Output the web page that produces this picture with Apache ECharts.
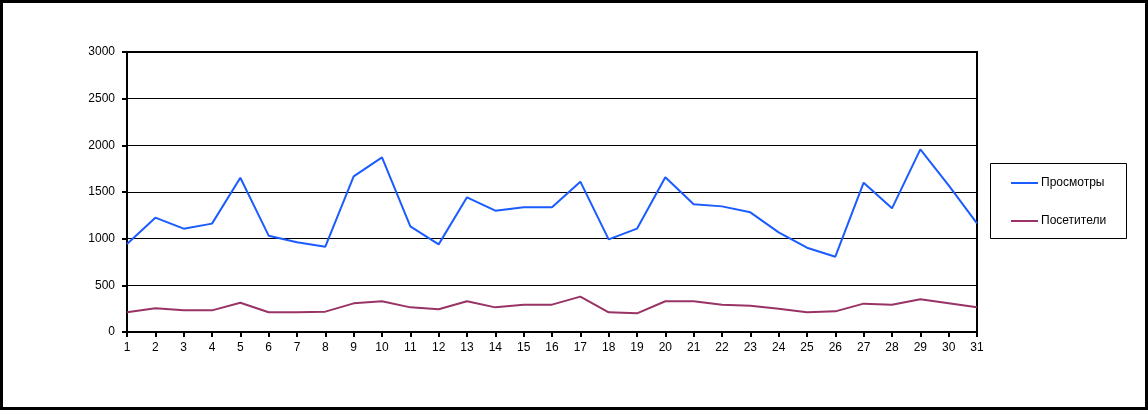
<!DOCTYPE html>
<html>
<head>
<meta charset="utf-8">
<script src="https://cdn.jsdelivr.net/npm/echarts@6/dist/echarts.min.js"></script>
<style>
html,body{margin:0;padding:0;background:#fff;}
#c{width:1148px;height:410px;}
</style>
</head>
<body>
<div id="c"></div>
<script>
const days = ['1','2','3','4','5','6','7','8','9','10','11','12','13','14','15','16','17','18','19','20','21','22','23','24','25','26','27','28','29','30','31'];
const views = [943,1225,1107,1161,1653,1032,961,914,1668,1871,1132,939,1443,1300,1336,1336,1611,993,1107,1657,1368,1346,1282,1068,903,807,1600,1325,1957,1571,1164];
const visitors = [211,254,232,232,314,211,211,218,307,329,264,243,329,264,293,293,379,211,200,329,329,293,282,250,211,221,304,293,350,307,264];
const seriesNames = ['Просмотры','Посетители'];
const yTicks = {min:0, max:3000, interval:500};

const chart = echarts.init(document.getElementById('c'), null, {renderer:'canvas'});
const font = 'Arial, "Liberation Sans", sans-serif';
chart.setOption({
  animation:false,
  backgroundColor:'#fff',
  textStyle:{fontFamily:font},
  graphic:[
    {type:'rect', shape:{x:1.5,y:1.5,width:1145,height:407}, style:{fill:'none', stroke:'#000', lineWidth:3}, z:100},
    {type:'rect', shape:{x:990.5,y:163.5,width:136,height:75}, style:{fill:'#fff', stroke:'#000', lineWidth:1}, z:1}
  ],
  grid:{left:127, right:171, top:52, bottom:78, show:true, borderColor:'#000', borderWidth:2},
  legend:{
    left:1011, top:177, orient:'vertical', itemGap:26, padding:0,
    itemWidth:27, itemHeight:2,
    icon:'rect',
    textStyle:{fontFamily:font, fontSize:12, color:'#000', padding:[0,0,0,-2]},
    data:seriesNames, z:5
  },
  xAxis:{
    type:'category', data:days, boundaryGap:false,
    axisLine:{lineStyle:{color:'#000', width:2}},
    axisTick:{show:true, length:5, inside:false, lineStyle:{color:'#000', width:2}, interval:0},
    axisLabel:{color:'#000', fontSize:12, fontFamily:font, margin:10, interval:0},
    splitLine:{show:false}
  },
  yAxis:{
    type:'value', min:yTicks.min, max:yTicks.max, interval:yTicks.interval,
    axisLine:{show:true, lineStyle:{color:'#000', width:2}},
    axisTick:{show:true, length:5, lineStyle:{color:'#000', width:2}},
    axisLabel:{color:'#000', fontSize:12, fontFamily:font, margin:12, formatter:function(v){return String(v);}},
    splitLine:{show:true, lineStyle:{color:'#000', width:1}}
  },
  series:[
    {name:seriesNames[0], type:'line', data:views, showSymbol:false, symbol:'none',
     lineStyle:{color:'#1a5cff', width:2}, itemStyle:{color:'#1a5cff'}},
    {name:seriesNames[1], type:'line', data:visitors, showSymbol:false, symbol:'none',
     lineStyle:{color:'#993366', width:2}, itemStyle:{color:'#993366'}}
  ]
});
</script>
</body>
</html>
